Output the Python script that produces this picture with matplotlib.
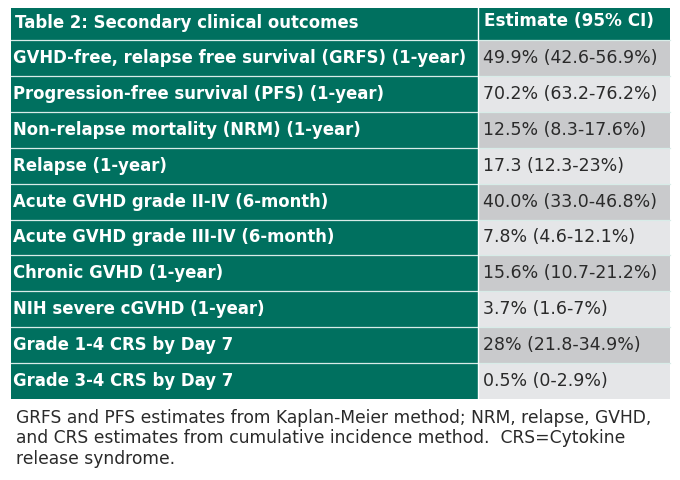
import matplotlib.pyplot as plt
from matplotlib.patches import Rectangle

plt.rcParams['font.family'] = ['DejaVu Sans']

# --- table content ---
title = "Table 2: Secondary clinical outcomes"
col_header = "Estimate (95% CI)"
outcomes = [
    "GVHD-free, relapse free survival (GRFS) (1-year)",
    "Progression-free survival (PFS) (1-year)",
    "Non-relapse mortality (NRM) (1-year)",
    "Relapse (1-year)",
    "Acute GVHD grade II-IV (6-month)",
    "Acute GVHD grade III-IV (6-month)",
    "Chronic GVHD (1-year)",
    "NIH severe cGVHD (1-year)",
    "Grade 1-4 CRS by Day 7",
    "Grade 3-4 CRS by Day 7",
]
estimates = [
    "49.9% (42.6-56.9%)",
    "70.2% (63.2-76.2%)",
    "12.5% (8.3-17.6%)",
    "17.3 (12.3-23%)",
    "40.0% (33.0-46.8%)",
    "7.8% (4.6-12.1%)",
    "15.6% (10.7-21.2%)",
    "3.7% (1.6-7%)",
    "28% (21.8-34.9%)",
    "0.5% (0-2.9%)",
]
footnote = ("GRFS and PFS estimates from Kaplan-Meier method; NRM, relapse, GVHD,\n"
            "and CRS estimates from cumulative incidence method.  CRS=Cytokine\n"
            "release syndrome.")

teal = "#00705f"
gray_dark = "#c9cacc"
gray_light = "#e5e6e8"

fig = plt.figure(figsize=(6.8, 4.8), dpi=100, facecolor="white")
ax = fig.add_axes([0, 0, 1, 1])
ax.set_xlim(0, 680)
ax.set_ylim(480, 0)
ax.axis("off")

x0, xs, x1 = 11, 478, 670
head_top, head_h = 8, 32
row_h = 35.9

# header
ax.add_patch(Rectangle((x0, head_top), xs - x0, head_h, color=teal, lw=0))
ax.add_patch(Rectangle((xs, head_top), x1 - xs, head_h, color=teal, lw=0))
ax.text(x0 + 4, head_top + head_h / 2 - 1, title, color="white",
        fontsize=11.9, fontweight="bold", va="center", ha="left")
ax.text(xs + 6, head_top + head_h / 2 - 3, col_header, color="white",
        fontsize=12.2, fontweight="bold", va="center", ha="left")

for i, (name, est) in enumerate(zip(outcomes, estimates)):
    top = head_top + head_h + i * row_h
    ax.add_patch(Rectangle((x0, top), xs - x0, row_h, color=teal, lw=0))
    fill = gray_dark if i % 2 == 0 else gray_light
    ax.add_patch(Rectangle((xs, top), x1 - xs, row_h, color=fill, lw=0))
    ax.text(x0 + 2, top + row_h / 2, name, color="white",
            fontsize=11.9, fontweight="bold", va="center", ha="left")
    ax.text(xs + 5, top + row_h / 2, est, color="#2a2a2a",
            fontsize=12.5, va="center", ha="left")
    # thin separators
    ax.plot([x0, x1], [top, top], color="#d8ece8", lw=0.9)

# vertical split
ax.plot([xs, xs], [head_top, head_top + head_h + len(outcomes) * row_h],
        color="white", lw=1.0)

ax.text(16, 409, footnote, color="#2a2a2a", fontsize=12.35,
        va="top", ha="left", linespacing=1.17)

fig.savefig("out.png", dpi=100, facecolor="white")
